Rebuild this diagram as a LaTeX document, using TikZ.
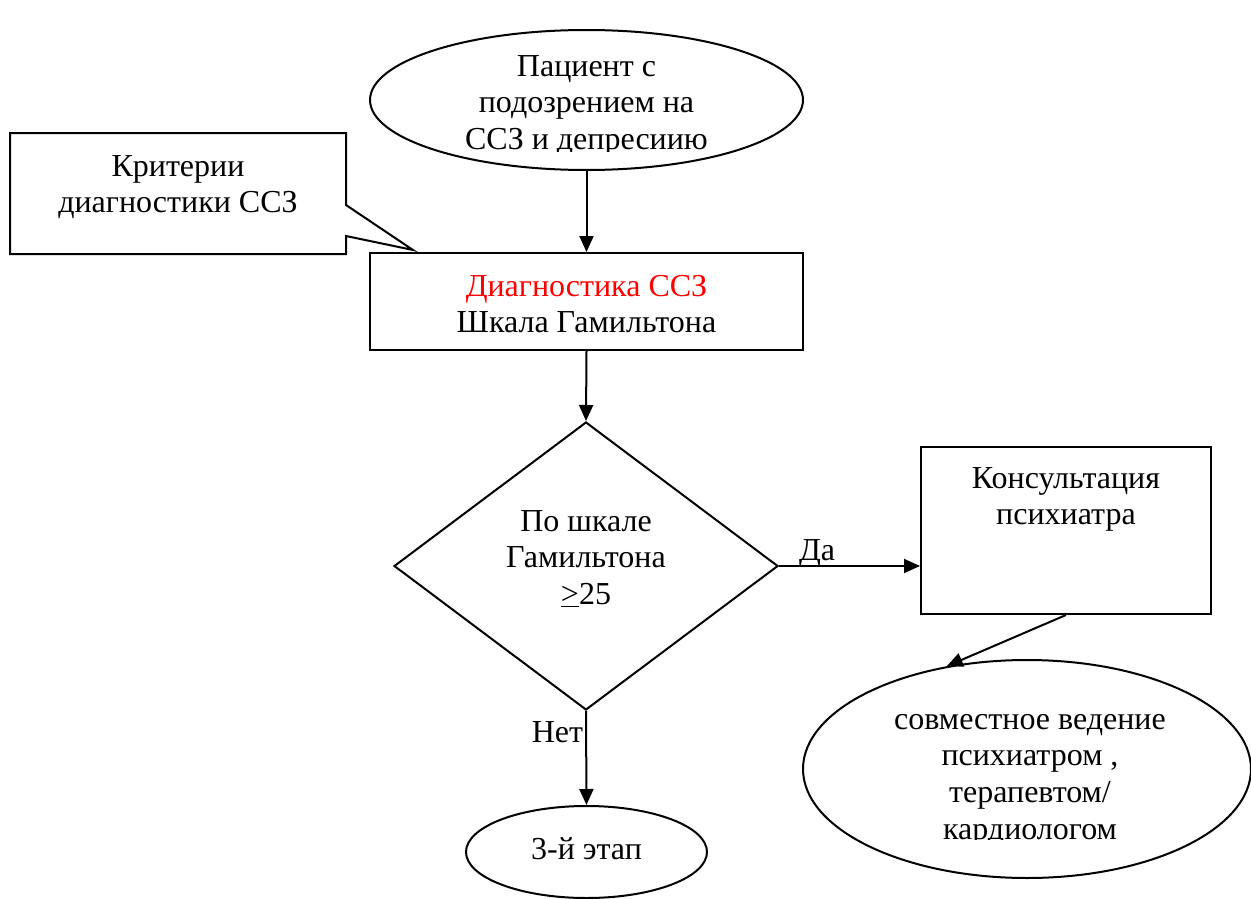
\documentclass[tikz,border=0pt]{standalone}
\usepackage{fontspec}
\setmainfont{Liberation Serif}
\usetikzlibrary{shapes.geometric,arrows.meta}
\begin{document}
\begin{tikzpicture}[x=1pt,y=-1pt,
  line width=2pt,
  arr/.style={-{Triangle[length=16pt,width=14pt]}},
  shapebox/.style={draw, inner sep=0pt},
  txt/.style={font=\fontsize{32}{36.8}\selectfont, align=center, inner sep=0pt, anchor=base},
  lbl/.style={font=\fontsize{32}{36.8}\selectfont, inner sep=0pt, anchor=base}]
\useasboundingbox (0,0) rectangle (1251,899);

% flowchart shapes
\node[shapebox, ellipse, minimum width=433pt, minimum height=140pt] (start) at (586.5,100) {};
\node[shapebox, rectangle, minimum width=433pt, minimum height=97pt] (diag) at (586.5,301.5) {};
\node[shapebox, diamond, minimum width=384pt, minimum height=288pt] (dec) at (586,566) {};
\node[shapebox, rectangle, minimum width=290pt, minimum height=167pt] (cons) at (1066,530.5) {};
\node[shapebox, ellipse, minimum width=448pt, minimum height=218pt] (joint) at (1027,769) {};
\node[shapebox, ellipse, minimum width=241pt, minimum height=92pt] (stage) at (586.5,852) {};

% callout with its pointer
\draw (10,133) -- (346,133) -- (346,205) -- (413,250) -- (346,236) -- (346,254) -- (10,254) -- cycle;

% texts (placed at the baseline of their last line)
\node[txt] (crit) at (178,212.8) {Критерии\\диагностики ССЗ};
\begin{scope}
  \clip (370,0) rectangle (803,151);
  \node[txt] (starttext) at (586.5,149.6) {Пациент с\\подозрением на\\ССЗ и депресиию};
\end{scope}
\node[txt] (diagtext) at (586.5,332.8) {\textcolor{red}{Диагностика ССЗ}\\Шкала Гамильтона};
\node[txt] (dectext) at (586,604.6) {По шкале\\Гамильтона\\\underline{>}25};
\node[txt] (constext) at (1066,524.8) {Консультация\\психиатра};
\begin{scope}
  \clip (803,660) rectangle (1251,839);
  \node[txt] (jointtext) at (1030,839.4) {совместное ведение\\психиатром ,\\терапевтом/\\кардиологом};
\end{scope}
\node[txt] (stagetext) at (586.5,859) {3-й этап};

% connectors
\draw[arr] (start.south) -- (diag.north);
\draw[arr] (diag.south) -- (dec.north);
\draw[arr] (dec.east) -- node[lbl, pos=0.27, above=6pt, anchor=base] (yes) {Да} (dec.east -| cons.west);
\draw[arr] (dec.south) -- node[lbl, pos=0.33, left=2pt, anchor=base east] (no) {Нет} (stage.north);
\draw[arr] (cons.south) -- (joint.128);
\end{tikzpicture}
\end{document}
